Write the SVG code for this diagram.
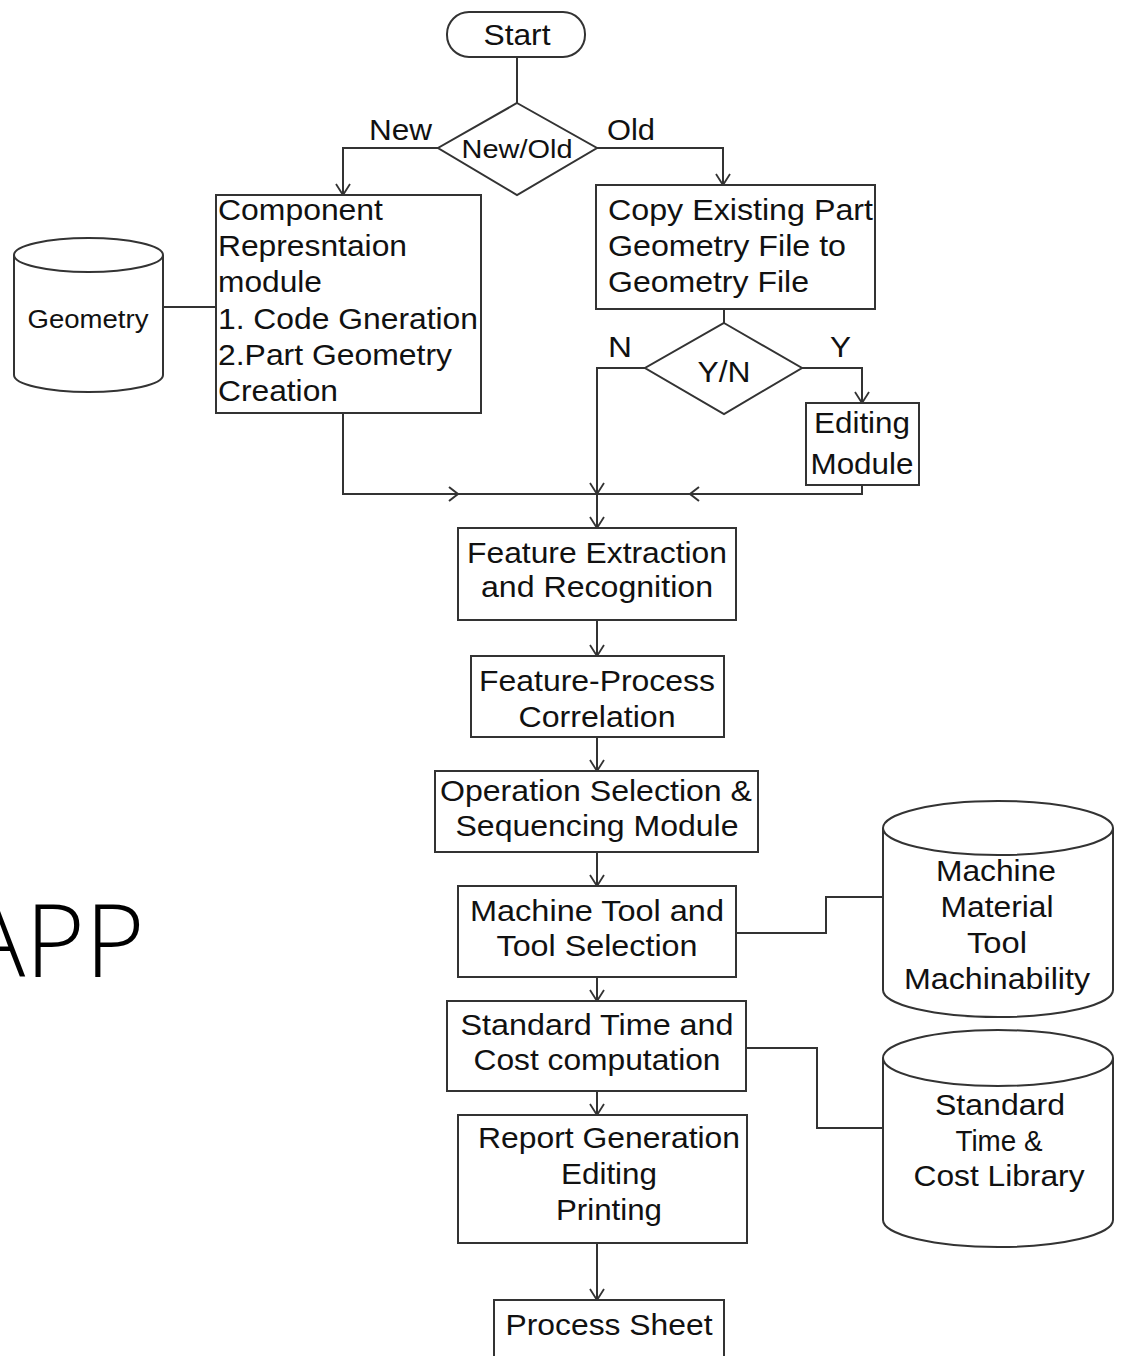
<svg xmlns="http://www.w3.org/2000/svg" width="1122" height="1356" viewBox="0 0 1122 1356">
<defs>
<style>
.b{fill:#fff;stroke:#333;stroke-width:2}
.c{fill:none;stroke:#333;stroke-width:2}
.t{font-family:"Liberation Sans",Arial,sans-serif;font-size:30px;fill:#111}
.s{font-size:26px}
.m{text-anchor:middle}
</style>
<marker id="arr" markerWidth="16" markerHeight="16" refX="12" refY="8" orient="auto" markerUnits="userSpaceOnUse">
<path d="M1,1 L12,8 L1,15" fill="none" stroke="#333" stroke-width="1.8"/>
</marker>
</defs>
<rect width="1122" height="1356" fill="#fff"/>
<text x="-36" y="977" font-family="'Open Sans','Noto Sans',sans-serif" font-size="102" font-weight="300" fill="#000">APP</text>
<g id="connectors">
<path class="c" d="M517,57 V103"/>
<path class="c" d="M438,148 H343 V195" marker-end="url(#arr)"/>
<path class="c" d="M597,148 H723 V185" marker-end="url(#arr)"/>
<path class="c" d="M163,307 H216"/>
<path class="c" d="M724,309 V323"/>
<path class="c" d="M645,368 H597 V494" marker-end="url(#arr)"/>
<path class="c" d="M802,368 H862 V403" marker-end="url(#arr)"/>
<path class="c" d="M343,413 V494 H597"/>
<path class="c" d="M862,485 V494 H597"/>
<path class="c" d="M449,487 L458,494 L449,501"/>
<path class="c" d="M699,487 L690,494 L699,501"/>
<path class="c" d="M597,494 V528" marker-end="url(#arr)"/>
<path class="c" d="M597,620 V656" marker-end="url(#arr)"/>
<path class="c" d="M597,737 V771" marker-end="url(#arr)"/>
<path class="c" d="M597,852 V886" marker-end="url(#arr)"/>
<path class="c" d="M597,977 V1001" marker-end="url(#arr)"/>
<path class="c" d="M597,1091 V1115" marker-end="url(#arr)"/>
<path class="c" d="M597,1243 V1300" marker-end="url(#arr)"/>
<path class="c" d="M736,933 H826 V897 H883"/>
<path class="c" d="M746,1048 H817 V1128 H883"/>
</g>
<g id="start">
<rect class="b" x="447" y="12" width="138" height="45" rx="22"/>
<text class="t m" x="517" y="45" textLength="67" lengthAdjust="spacingAndGlyphs">Start</text>
</g>
<g id="newold">
<polygon class="b" points="517,103 597,148 517,195 438,148"/>
<text class="t s m" x="517" y="158" textLength="111" lengthAdjust="spacingAndGlyphs">New/Old</text>
<text class="t" x="369" y="140" textLength="63" lengthAdjust="spacingAndGlyphs">New</text>
<text class="t" x="607" y="140" textLength="48" lengthAdjust="spacingAndGlyphs">Old</text>
</g>
<g id="component">
<rect class="b" x="216" y="195" width="265" height="218"/>
<text class="t" x="218" y="220" textLength="165" lengthAdjust="spacingAndGlyphs">Component</text>
<text class="t" x="218" y="256" textLength="189" lengthAdjust="spacingAndGlyphs">Represntaion</text>
<text class="t" x="218" y="292" textLength="104" lengthAdjust="spacingAndGlyphs">module</text>
<text class="t" x="218" y="329" textLength="260" lengthAdjust="spacingAndGlyphs">1. Code Gneration</text>
<text class="t" x="218" y="365" textLength="234" lengthAdjust="spacingAndGlyphs">2.Part Geometry</text>
<text class="t" x="218" y="401" textLength="120" lengthAdjust="spacingAndGlyphs">Creation</text>
</g>
<g id="geometry">
<path class="b" d="M14,255 V375 A74.5,17 0 0 0 163,375 V255"/>
<ellipse class="b" cx="88.5" cy="255" rx="74.5" ry="17"/>
<text class="t s m" x="88" y="328" textLength="121" lengthAdjust="spacingAndGlyphs">Geometry</text>
</g>
<g id="copy">
<rect class="b" x="596" y="185" width="279" height="124"/>
<text class="t" x="608" y="220" textLength="265" lengthAdjust="spacingAndGlyphs">Copy Existing Part</text>
<text class="t" x="608" y="256" textLength="238" lengthAdjust="spacingAndGlyphs">Geometry File to</text>
<text class="t" x="608" y="292" textLength="201" lengthAdjust="spacingAndGlyphs">Geometry File</text>
</g>
<g id="yn">
<polygon class="b" points="724,323 802,368 724,414 645,368"/>
<text class="t m" x="724" y="382" textLength="53" lengthAdjust="spacingAndGlyphs">Y/N</text>
<text class="t" x="608" y="357" textLength="24" lengthAdjust="spacingAndGlyphs">N</text>
<text class="t" x="830" y="357" textLength="21" lengthAdjust="spacingAndGlyphs">Y</text>
</g>
<g id="editing">
<rect class="b" x="806" y="403" width="113" height="82"/>
<text class="t m" x="862" y="433" textLength="96" lengthAdjust="spacingAndGlyphs">Editing</text>
<text class="t m" x="862" y="474" textLength="103" lengthAdjust="spacingAndGlyphs">Module</text>
</g>
<g id="feature">
<rect class="b" x="458" y="528" width="278" height="92"/>
<text class="t m" x="597" y="563" textLength="260" lengthAdjust="spacingAndGlyphs">Feature Extraction</text>
<text class="t m" x="597" y="597" textLength="232" lengthAdjust="spacingAndGlyphs">and Recognition</text>
</g>
<g id="featproc">
<rect class="b" x="471" y="656" width="253" height="81"/>
<text class="t m" x="597" y="691" textLength="236" lengthAdjust="spacingAndGlyphs">Feature-Process</text>
<text class="t m" x="597" y="727" textLength="157" lengthAdjust="spacingAndGlyphs">Correlation</text>
</g>
<g id="operation">
<rect class="b" x="435" y="771" width="323" height="81"/>
<text class="t m" x="596" y="801" textLength="312" lengthAdjust="spacingAndGlyphs">Operation Selection &amp;</text>
<text class="t m" x="597" y="836" textLength="283" lengthAdjust="spacingAndGlyphs">Sequencing Module</text>
</g>
<g id="machinetool">
<rect class="b" x="458" y="886" width="278" height="91"/>
<text class="t m" x="597" y="921" textLength="254" lengthAdjust="spacingAndGlyphs">Machine Tool and</text>
<text class="t m" x="597" y="956" textLength="201" lengthAdjust="spacingAndGlyphs">Tool Selection</text>
</g>
<g id="stdtime">
<rect class="b" x="447" y="1001" width="299" height="90"/>
<text class="t m" x="597" y="1035" textLength="273" lengthAdjust="spacingAndGlyphs">Standard Time and</text>
<text class="t m" x="597" y="1070" textLength="247" lengthAdjust="spacingAndGlyphs">Cost computation</text>
</g>
<g id="report">
<rect class="b" x="458" y="1115" width="289" height="128"/>
<text class="t m" x="609" y="1148" textLength="262" lengthAdjust="spacingAndGlyphs">Report Generation</text>
<text class="t m" x="609" y="1184" textLength="96" lengthAdjust="spacingAndGlyphs">Editing</text>
<text class="t m" x="609" y="1220" textLength="106" lengthAdjust="spacingAndGlyphs">Printing</text>
</g>
<g id="processsheet">
<rect class="b" x="494" y="1300" width="230" height="70"/>
<text class="t m" x="609" y="1335" textLength="207" lengthAdjust="spacingAndGlyphs">Process Sheet</text>
</g>
<g id="machinedb">
<path class="b" d="M883,828 V990 A115,27 0 0 0 1113,990 V828"/>
<ellipse class="b" cx="998" cy="828" rx="115" ry="27"/>
<text class="t m" x="996" y="881" textLength="120" lengthAdjust="spacingAndGlyphs">Machine</text>
<text class="t m" x="997" y="917" textLength="113" lengthAdjust="spacingAndGlyphs">Material</text>
<text class="t m" x="997" y="953" textLength="60" lengthAdjust="spacingAndGlyphs">Tool</text>
<text class="t m" x="997" y="989" textLength="186" lengthAdjust="spacingAndGlyphs">Machinability</text>
</g>
<g id="stdlib">
<path class="b" d="M883,1058 V1220 A115,27 0 0 0 1113,1220 V1058"/>
<ellipse class="b" cx="998" cy="1058" rx="115" ry="28"/>
<text class="t m" x="1000" y="1115" textLength="130" lengthAdjust="spacingAndGlyphs">Standard</text>
<text class="t m" x="999" y="1151" textLength="87" lengthAdjust="spacingAndGlyphs">Time &amp;</text>
<text class="t m" x="999" y="1186" textLength="171" lengthAdjust="spacingAndGlyphs">Cost Library</text>
</g>
</svg>
